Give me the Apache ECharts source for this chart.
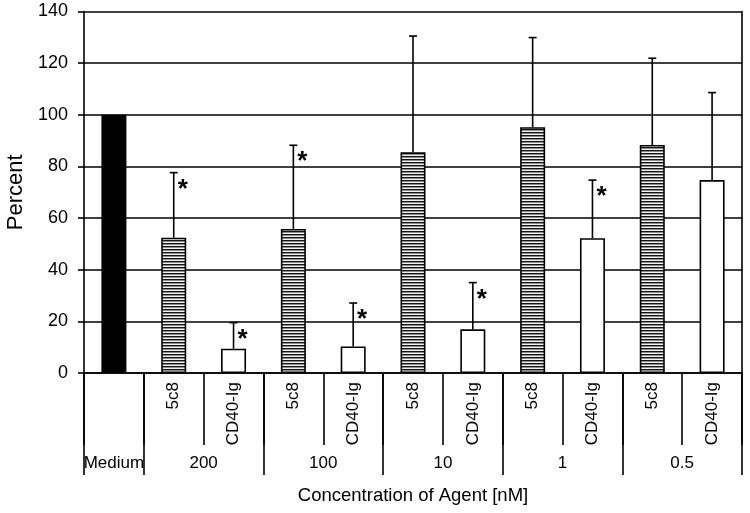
<!DOCTYPE html>
<html>
<head>
<meta charset="utf-8">
<script src="https://cdn.jsdelivr.net/npm/echarts@6/dist/echarts.min.js"></script>
<style>
html,body{margin:0;padding:0;background:#fff;}
#chart{width:750px;height:513px;}
</style>
</head>
<body>
<div id="chart"></div>
<script>
// ---- data ----
var categories = ['Medium', '5c8', 'CD40-Ig', '5c8', 'CD40-Ig', '5c8', 'CD40-Ig', '5c8', 'CD40-Ig', '5c8', 'CD40-Ig'];
var agentTypes = ['medium', '5c8', 'cd40', '5c8', 'cd40', '5c8', 'cd40', '5c8', 'cd40', '5c8', 'cd40'];
var concentrations = ['Medium', '200', '100', '10', '1', '0.5'];
var percentValues = [100, 52.4, 9.4, 55.8, 10.3, 85.5, 16.9, 95.2, 52.2, 88.3, 74.7];
var errorUpper = [null, 77.6, 19.5, 88.2, 27.1, 130.5, 35.0, 129.9, 74.7, 121.9, 108.6];
var significant = [false, true, true, true, true, false, true, false, true, false, false];
var yTicks = [0, 20, 40, 60, 80, 100, 120, 140];
var groupBoundaries = [0, 1, 3, 5, 7, 9, 11];
var groupCenters = [0.5, 2, 4, 6, 8, 10];

// ---- hatch pattern ----
var pc = document.createElement('canvas');
pc.width = 4; pc.height = 3;
var pctx = pc.getContext('2d');
pctx.fillStyle = '#f2f2f2'; pctx.fillRect(0, 0, 4, 3);
pctx.fillStyle = '#151515'; pctx.fillRect(0, 0, 4, 1);
pctx.fillStyle = '#8c8c8c'; pctx.fillRect(0, 1, 4, 1);

var FONT = '"Liberation Sans", Arial, sans-serif';

var barData = percentValues.map(function (v, i) {
  var t = agentTypes[i];
  var color = t === 'medium' ? '#000' : (t === '5c8' ? { image: pc, repeat: 'repeat' } : '#fff');
  return { value: v, itemStyle: { color: color, borderColor: '#000', borderWidth: 1.6 } };
});

var errData = [];
var starData = [];
percentValues.forEach(function (v, i) {
  if (errorUpper[i] != null) errData.push([i, v, errorUpper[i]]);
  if (significant[i]) starData.push([i, errorUpper[i]]);
});

var chart = echarts.init(document.getElementById('chart'), null, { renderer: 'canvas' });
chart.setOption({
  animation: false,
  backgroundColor: '#fff',
  textStyle: { fontFamily: FONT },
  grid: { left: 84, right: 8, top: 11.5, bottom: 140, containLabel: false, outerBoundsMode: 'none' },
  xAxis: [
    {
      type: 'category',
      data: categories,
      boundaryGap: true,
      axisLine: { show: true, lineStyle: { color: '#000', width: 1.6 } },
      axisTick: { show: true, interval: 0, length: 72, lineStyle: { color: '#000', width: 1.6 } },
      axisLabel: {
        interval: 0, rotate: 90, margin: 9, fontSize: 17, color: '#000', fontFamily: FONT,
        formatter: function (v, i) { return i === 0 ? '' : v; }
      },
      splitLine: { show: false }
    },
    {
      type: 'value',
      min: 0, max: 11,
      position: 'bottom',
      axisLine: { show: false },
      axisTick: { show: true, customValues: groupBoundaries, length: 102, lineStyle: { color: '#000', width: 1.6 } },
      axisLabel: {
        show: true, customValues: groupCenters, margin: 82, fontSize: 17, color: '#000', fontFamily: FONT,
        formatter: function (v) { var k = groupCenters.indexOf(v); return k >= 0 ? concentrations[k] : ''; }
      },
      splitLine: { show: false },
      name: 'Concentration of Agent [nM]',
      nameLocation: 'middle',
      nameGap: 113,
      nameTextStyle: { fontSize: 18.5, color: '#000', fontFamily: FONT }
    }
  ],
  yAxis: [
    {
      type: 'value',
      min: 0, max: 140, interval: 20,
      axisLine: { show: true, lineStyle: { color: '#000', width: 1.6 } },
      axisTick: { show: true, length: 6, lineStyle: { color: '#000', width: 1.6 } },
      axisLabel: { fontSize: 18, color: '#000', margin: 16, fontFamily: FONT },
      splitLine: { show: true, lineStyle: { color: '#000', width: 1.6 } },
      name: 'Percent',
      nameLocation: 'middle',
      nameGap: 54,
      nameTextStyle: { fontSize: 22, color: '#000', fontFamily: FONT }
    },
    {
      type: 'value',
      min: 0, max: 140, interval: 20,
      position: 'right',
      axisLine: { show: true, lineStyle: { color: '#000', width: 1.6 } },
      axisTick: { show: false },
      axisLabel: { show: false },
      splitLine: { show: false }
    }
  ],
  series: [
    {
      type: 'bar',
      xAxisIndex: 0,
      yAxisIndex: 0,
      barWidth: 25,
      data: barData,
      z: 2
    },
    {
      type: 'custom',
      xAxisIndex: 0,
      yAxisIndex: 0,
      data: errData,
      z: 3,
      renderItem: function (params, api) {
        var x = api.coord([api.value(0), api.value(1)])[0];
        var y0 = api.coord([api.value(0), api.value(1)])[1];
        var y1 = api.coord([api.value(0), api.value(2)])[1];
        var st = { stroke: '#000', lineWidth: 1.6 };
        return {
          type: 'group',
          children: [
            { type: 'line', shape: { x1: x, y1: y0, x2: x, y2: y1 }, style: st },
            { type: 'line', shape: { x1: x - 4, y1: y1, x2: x + 4, y2: y1 }, style: st }
          ]
        };
      }
    },
    {
      type: 'custom',
      xAxisIndex: 0,
      yAxisIndex: 0,
      data: starData,
      z: 4,
      renderItem: function (params, api) {
        var p = api.coord([api.value(0), api.value(1)]);
        return {
          type: 'text',
          x: p[0] + 9,
          y: p[1] + 17,
          style: {
            text: '*', fontSize: 26, fontWeight: 'bold', fontFamily: FONT, fill: '#000',
            align: 'center', verticalAlign: 'middle'
          }
        };
      }
    }
  ]
});
</script>
</body>
</html>
